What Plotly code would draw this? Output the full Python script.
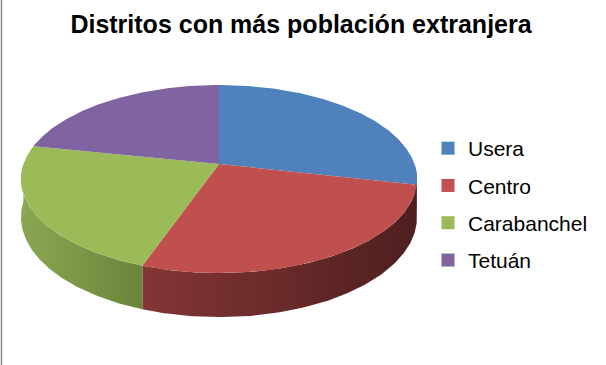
import numpy as np
import plotly.graph_objects as go

# ---- data ----
districts = ["Usera", "Centro", "Carabanchel", "Tetuán"]
shares = [28.5, 26.9, 22.8, 21.8]
top_colors = ["#4F81BD", "#C0504D", "#9BBB59", "#8064A2"]
side_colors = [
    ["#3a6290", "#2c4a70"],
    ["#843535", "#4e1f1f"],
    ["#8ba753", "#6a8439"],
    ["#604b7a", "#4a3a5e"],
]
title_text = "Distritos con más población extranjera"

# ---- geometry of the 3D pie (pixel space) ----
W, H = 606, 365
cx, cy = 219.0, 164.0
A, B, K, D = 195.5, 91.6, 0.16, 37.0


def proj(t_deg, drop=0.0):
    t = np.radians(t_deg)
    u, v = np.cos(t), np.sin(t)
    w = 1 + K * v
    return cx + A * u / w, cy - B * v / w + drop * D / w


total = sum(shares)
bounds = [90.0]
for s in shares:
    bounds.append(bounds[-1] - 360.0 * s / total)

fig = go.Figure()

# side walls (front half: angles between -180 and 0)
for i in range(len(shares)):
    t0, t1 = bounds[i], bounds[i + 1]
    a = min(t0, 0.0)
    b = max(t1, -180.0)
    if a <= b:
        continue
    ts = np.linspace(a, b, 120)
    xt, yt = proj(ts)
    xb, yb = proj(ts[::-1], 1.0)
    xs = np.concatenate([xt, xb, xt[:1]])
    ys = np.concatenate([yt, yb, yt[:1]])
    left, right = side_colors[i]
    fig.add_trace(go.Scatter(
        x=xs, y=ys, mode="lines", line=dict(width=0), fill="toself",
        fillgradient=dict(type="horizontal",
                          colorscale=[[0, left], [1, right]]),
        showlegend=False, hoverinfo="skip"))

# top faces
for i in range(len(shares)):
    ts = np.linspace(bounds[i], bounds[i + 1], 200)
    xa, ya = proj(ts)
    xs = np.concatenate([[cx], xa, [cx]])
    ys = np.concatenate([[cy], ya, [cy]])
    fig.add_trace(go.Scatter(
        x=xs, y=ys, mode="lines", line=dict(width=0), fill="toself",
        fillcolor=top_colors[i], showlegend=False,
        name=districts[i], hoverinfo="name"))

# legend entries
for i, d in enumerate(districts):
    fig.add_trace(go.Scatter(
        x=[None], y=[None], mode="markers", name=d, legendgroup=d,
        marker=dict(symbol="square", size=13, color=top_colors[i])))

fig.add_shape(type="line", x0=1.5, x1=1.5, y0=0, y1=H,
              line=dict(color="#8c8c8c", width=1.5))

fig.update_layout(
    width=W, height=H,
    margin=dict(l=0, r=0, t=0, b=0),
    paper_bgcolor="white", plot_bgcolor="white",
    xaxis=dict(range=[0, W], visible=False, fixedrange=True),
    yaxis=dict(range=[H, 0], visible=False, fixedrange=True),
    title=dict(text=title_text, x=301 / W, xanchor="center",
               y=1 - 24 / H, yanchor="middle",
               font=dict(family="Liberation Sans", size=25, color="black",
                         weight="bold")),
    legend=dict(x=428 / W, xanchor="left", y=1 - 128 / H, yanchor="top",
                font=dict(family="Liberation Sans", size=21, color="black"),
                tracegroupgap=7, bgcolor="rgba(0,0,0,0)"),
    showlegend=True,
)

fig.write_html("out.html")
